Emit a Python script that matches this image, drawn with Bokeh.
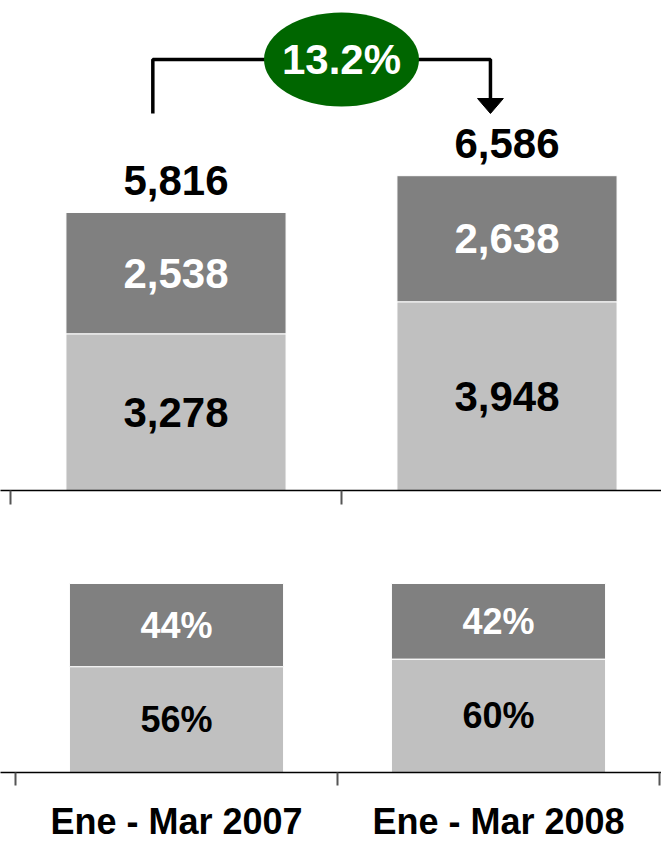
from bokeh.plotting import figure
from bokeh.models import FixedTicker, LinearAxis, Range1d
from bokeh.layouts import column
from bokeh.core.properties import value
from bokeh.embed import file_html
from bokeh.resources import INLINE

# ---------------- data ----------------
periods = ["Ene - Mar 2007", "Ene - Mar 2008"]
lower_vals = [3278, 3948]          # light grey segment
upper_vals = [2538, 2638]          # dark grey segment
lower_share = [56, 60]             # % of total (bottom panel)
upper_share = [44, 40]
lower_share_labels = ["56%", "60%"]
upper_share_labels = ["44%", "42%"]

totals = [a + b for a, b in zip(lower_vals, upper_vals)]
growth = (totals[1] / totals[0] - 1) * 100
xs = [0.5, 1.5]

# ---------------- style ----------------
FONT = value("Liberation Sans")
DARK = "#808080"
LIGHT = "#C0C0C0"
GREEN = "#006600"
BAR_W = 0.665


def base_axis(ax):
    ax.ticker = FixedTicker(ticks=[0, 1, 2])
    ax.major_tick_in = 0
    ax.major_tick_out = 14
    ax.major_tick_line_color = "#555555"
    ax.major_tick_line_width = 2
    ax.minor_tick_line_color = None
    ax.axis_line_color = "black"
    ax.axis_line_width = 1.5
    ax.major_label_text_color = None
    ax.major_label_text_font_size = "1px"
    ax.major_label_standoff = 0


# ---------------- top panel: absolute values ----------------
top = figure(frame_width=661, frame_height=490,
             x_range=Range1d(-10 / 331, 651 / 331), y_range=Range1d(0, 10251),
             output_backend="svg", toolbar_location=None,
             y_axis_location=None,
             min_border_left=0, min_border_right=0, min_border_top=0,
             min_border_bottom=40, outline_line_color=None)
top.xgrid.visible = False
top.ygrid.visible = False
base_axis(top.xaxis[0])

top.vbar(x=xs, bottom=0, top=lower_vals, width=BAR_W,
         fill_color=LIGHT, line_color="white", line_width=1)
top.vbar(x=xs, bottom=lower_vals, top=totals, width=BAR_W,
         fill_color=DARK, line_color="white", line_width=1)

top.text(x=xs, y=[v / 2 for v in lower_vals], text=[f"{v:,}" for v in lower_vals],
         text_align="center", text_baseline="middle", text_font=FONT,
         text_font_style="bold", text_font_size="42px", text_color="black")
top.text(x=xs, y=[l + u / 2 for l, u in zip(lower_vals, upper_vals)],
         text=[f"{v:,}" for v in upper_vals],
         text_align="center", text_baseline="middle", text_font=FONT,
         text_font_style="bold", text_font_size="42px", text_color="white")
top.text(x=xs, y=totals, y_offset=-32, text=[f"{v:,}" for v in totals],
         text_align="center", text_baseline="middle", text_font=FONT,
         text_font_style="bold", text_font_size="42px", text_color="black")

# growth bracket with arrow
ymax = max(totals)
BR_Y = ymax * 1.369
END_Y = ymax * 1.1975
XL, XR = 0.43, 1.45
HEAD_LEN = 314
HEAD_HW = 0.039
top.line(x=[XL, XL, XR, XR], y=[END_Y, BR_Y, BR_Y, END_Y + HEAD_LEN],
         line_color="black", line_width=3.5)
top.patch(x=[XR - HEAD_HW, XR + HEAD_HW, XR],
          y=[END_Y + HEAD_LEN, END_Y + HEAD_LEN, END_Y],
          fill_color="black", line_color="black", line_width=1)
top.ellipse(x=[1.0], y=[BR_Y], width=155, height=94,
            width_units="screen", height_units="screen",
            fill_color=GREEN, line_color=None)
top.text(x=[1.0], y=[BR_Y], text=[f"{growth:.1f}%"],
         text_align="center", text_baseline="middle", text_font=FONT,
         text_font_style="bold", text_font_size="42px", text_color="white")

# ---------------- bottom panel: shares ----------------
bot = figure(frame_width=661, frame_height=242,
             x_range=Range1d(-15 / 322, 646 / 322), y_range=Range1d(0, 128.04),
             output_backend="svg", toolbar_location=None,
             y_axis_location=None,
             min_border_left=0, min_border_right=0, min_border_top=0,
             min_border_bottom=0, outline_line_color=None)
bot.xgrid.visible = False
bot.ygrid.visible = False
base_axis(bot.xaxis[0])
bot.xaxis[0].major_tick_out = 13

bot.vbar(x=xs, bottom=0, top=lower_share, width=BAR_W,
         fill_color=LIGHT, line_color="white", line_width=1)
bot.vbar(x=xs, bottom=lower_share,
         top=[l + u for l, u in zip(lower_share, upper_share)], width=BAR_W,
         fill_color=DARK, line_color="white", line_width=1)
bot.text(x=xs, y=[v / 2 for v in lower_share], text=lower_share_labels,
         text_align="center", text_baseline="middle", text_font=FONT,
         text_font_style="bold", text_font_size="36px", text_color="black")
bot.text(x=xs, y=[l + u / 2 for l, u in zip(lower_share, upper_share)],
         text=upper_share_labels,
         text_align="center", text_baseline="middle", text_font=FONT,
         text_font_style="bold", text_font_size="36px", text_color="white")

cat_axis = LinearAxis(ticker=FixedTicker(ticks=xs),
                      major_label_overrides={x: lab for x, lab in zip(xs, periods)},
                      axis_line_color=None, major_tick_line_color=None,
                      minor_tick_line_color=None,
                      major_label_text_font="Liberation Sans",
                      major_label_text_font_style="bold",
                      major_label_text_font_size="36px",
                      major_label_text_color="black",
                      major_label_standoff=9)
bot.add_layout(cat_axis, "below")

layout = column(top, bot, spacing=0)

with open("out.html", "w") as f:
    f.write(file_html(layout, INLINE))
